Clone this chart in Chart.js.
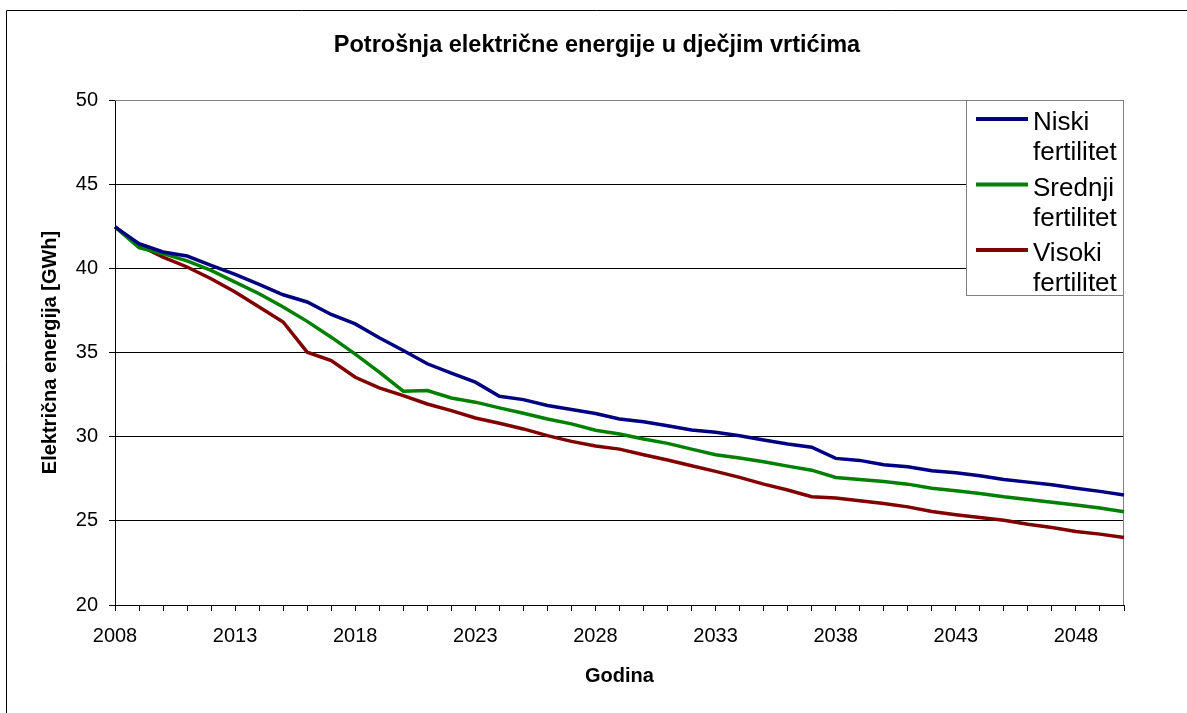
<!DOCTYPE html>
<html>
<head>
<meta charset="utf-8">
<script src="https://cdn.jsdelivr.net/npm/chart.js@4.4.1/dist/chart.umd.min.js"></script>
<style>
  html, body { margin: 0; padding: 0; background: #fff; }
  canvas { display: block; }
</style>
</head>
<body>
<canvas id="chart" width="1187" height="713"></canvas>
<script>
const years = [2008, 2009, 2010, 2011, 2012, 2013, 2014, 2015, 2016, 2017,
    2018, 2019, 2020, 2021, 2022, 2023, 2024, 2025, 2026, 2027,
    2028, 2029, 2030, 2031, 2032, 2033, 2034, 2035, 2036, 2037,
    2038, 2039, 2040, 2041, 2042, 2043, 2044, 2045, 2046, 2047,
    2048, 2049, 2050];

const niski = [42.46, 41.47, 40.97, 40.73, 40.18, 39.64, 39.05, 38.43, 38.0, 37.26,
    36.7, 35.88, 35.12, 34.33, 33.77, 33.24, 32.40, 32.20, 31.85, 31.61,
    31.38, 31.05, 30.89, 30.65, 30.40, 30.26, 30.06, 29.80, 29.56, 29.37,
    28.71, 28.59, 28.33, 28.21, 27.98, 27.86, 27.68, 27.46, 27.30, 27.14,
    26.93, 26.75, 26.53];

const srednji = [42.46, 41.23, 40.87, 40.44, 39.88, 39.18, 38.49, 37.70, 36.85, 35.91,
    34.9, 33.83, 32.70, 32.74, 32.30, 32.05, 31.71, 31.39, 31.05, 30.76,
    30.38, 30.16, 29.86, 29.60, 29.26, 28.93, 28.73, 28.51, 28.25, 28.01,
    27.58, 27.45, 27.34, 27.18, 26.93, 26.79, 26.63, 26.43, 26.27, 26.10,
    25.94, 25.76, 25.54];

const visoki = [42.46, 41.37, 40.67, 40.08, 39.38, 38.59, 37.70, 36.81, 35.02, 34.52,
    33.53, 32.90, 32.44, 31.94, 31.55, 31.11, 30.80, 30.46, 30.06, 29.72,
    29.45, 29.26, 28.93, 28.61, 28.27, 27.94, 27.58, 27.18, 26.83, 26.43,
    26.35, 26.19, 26.03, 25.83, 25.55, 25.36, 25.20, 25.04, 24.80, 24.60,
    24.37, 24.21, 24.01];

const seriesLabels = ['Niski fertilitet', 'Srednji fertilitet', 'Visoki fertilitet'];
const seriesColors = ['#000080', '#008000', '#800000'];

const FONT = "'Liberation Sans', Arial, sans-serif";

// title, axis titles, frame and the wrapped legend box
const decor = {
    id: 'decor',
    beforeDatasetsDraw(chart) {
        const { ctx, chartArea: a } = chart;
        ctx.save();
        ctx.strokeStyle = '#808080';
        ctx.lineWidth = 1;
        ctx.beginPath();
        ctx.moveTo(a.left, a.top + 0.5);
        ctx.lineTo(a.right - 0.5, a.top + 0.5);
        ctx.lineTo(a.right - 0.5, a.bottom);
        ctx.stroke();
        ctx.restore();
    },
    afterDraw(chart) {
        const { ctx, chartArea: a } = chart;
        ctx.save();

        // outer frame (only left and top edges are visible)
        ctx.strokeStyle = '#000';
        ctx.lineWidth = 1;
        ctx.beginPath();
        ctx.moveTo(6.5, chart.height);
        ctx.lineTo(6.5, 10.5);
        ctx.lineTo(chart.width, 10.5);
        ctx.stroke();

        ctx.fillStyle = '#000';
        ctx.textAlign = 'center';
        ctx.textBaseline = 'middle';
        ctx.font = 'bold 23.5px ' + FONT;
        ctx.fillText('Potrošnja električne energije u dječjim vrtićima', 597, 46);

        ctx.font = 'bold 20px ' + FONT;
        ctx.fillText('Godina', (a.left + a.right) / 2, 676);

        ctx.save();
        ctx.translate(50, (a.top + a.bottom) / 2);
        ctx.rotate(-Math.PI / 2);
        ctx.fillText('Električna energija [GWh]', 0, 0);
        ctx.restore();

        // legend
        const bx = 966, by = 100, bw = 157, bh = 195;
        ctx.fillStyle = '#fff';
        ctx.fillRect(bx, by, bw, bh);
        ctx.strokeStyle = '#808080';
        ctx.lineWidth = 1;
        ctx.strokeRect(bx + 0.5, by + 0.5, bw, bh);

        ctx.font = '26px ' + FONT;
        ctx.textAlign = 'left';
        ctx.textBaseline = 'alphabetic';
        chart.data.datasets.forEach((ds, i) => {
            const base = 130 + i * 65.5;
            ctx.strokeStyle = ds.borderColor;
            ctx.lineWidth = 4;
            ctx.beginPath();
            ctx.moveTo(976, base - 11);
            ctx.lineTo(1028, base - 11);
            ctx.stroke();
            ctx.fillStyle = '#000';
            ds.label.split(' ').forEach((word, j) => {
                ctx.fillText(word, 1033, base + j * 30);
            });
        });
        ctx.restore();
    }
};

new Chart(document.getElementById('chart'), {
    type: 'line',
    data: {
        labels: years,
        datasets: [niski, srednji, visoki].map((values, i) => ({
            label: seriesLabels[i],
            data: values,
            borderColor: seriesColors[i],
            backgroundColor: seriesColors[i],
            borderWidth: 3.5,
            pointRadius: 0,
            tension: 0,
            fill: false
        }))
    },
    options: {
        responsive: false,
        animation: false,
        layout: { padding: { top: 100, right: 63, bottom: 0, left: 0 } },
        plugins: {
            legend: { display: false },
            title: { display: false },
            tooltip: { enabled: false }
        },
        scales: {
            x: {
                type: 'category',
                offset: false,
                afterFit: scale => { scale.height = 108; },
                grid: {
                    drawOnChartArea: false,
                    drawTicks: true,
                    tickLength: 6,
                    tickColor: '#000'
                },
                border: { color: '#000', width: 1 },
                ticks: {
                    autoSkip: false,
                    maxRotation: 0,
                    padding: 13,
                    color: '#000',
                    font: { family: FONT, size: 20 },
                    callback: function (value, index) {
                        return index % 5 === 0 ? this.getLabelForValue(value) : '';
                    }
                }
            },
            y: {
                min: 20,
                max: 50,
                afterFit: scale => { scale.width = 115; },
                grid: {
                    color: ctx => (ctx.tick && ctx.tick.value === 50) ? '#808080' : '#000',
                    lineWidth: 1,
                    tickLength: 6,
                    tickColor: '#000'
                },
                border: { color: '#000', width: 1 },
                ticks: {
                    stepSize: 5,
                    padding: 11,
                    color: '#000',
                    font: { family: FONT, size: 20 }
                }
            }
        }
    },
    plugins: [decor]
});
</script>
</body>
</html>
